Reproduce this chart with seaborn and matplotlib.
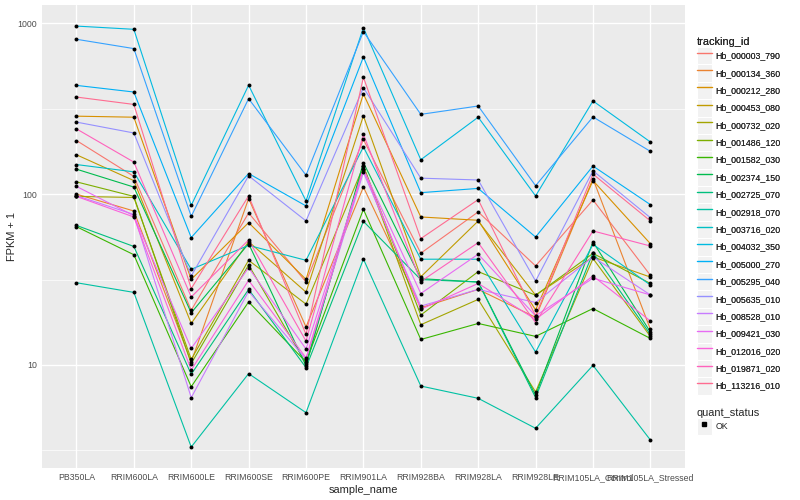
import numpy as np
import pandas as pd
import matplotlib
matplotlib.use("Agg")
import matplotlib.pyplot as plt
import seaborn as sns
from matplotlib.lines import Line2D
from matplotlib.patches import Patch
from matplotlib.legend_handler import HandlerTuple
from matplotlib.ticker import FixedLocator, FixedFormatter, NullFormatter

# samples on the x axis
samples = ["PB350LA", "RRIM600LA", "RRIM600LE", "RRIM600SE", "RRIM600PE", "RRIM901LA",
           "RRIM928BA", "RRIM928LA", "RRIM928LE", "RRIM105LA_Control", "RRIM105LA_Stressed"]

tracking_ids = ["Hb_000003_790", "Hb_000134_360", "Hb_000212_280", "Hb_000453_080",
                "Hb_000732_020", "Hb_001486_120", "Hb_001582_030", "Hb_002374_150",
                "Hb_002725_070", "Hb_002918_070", "Hb_003716_020", "Hb_004032_350",
                "Hb_005000_270", "Hb_005295_040", "Hb_005635_010", "Hb_008528_010",
                "Hb_009421_030", "Hb_012016_020", "Hb_019871_020", "Hb_113216_010"]

# ggplot hue palette, 20 levels
colors = ["#F8766D", "#EA8331", "#D89000", "#C09B00", "#A3A500", "#7CAE00", "#39B600",
          "#00BB4E", "#00BF7D", "#00C1A3", "#00BFC4", "#00BAE0", "#00B0F6", "#35A2FF",
          "#9590FF", "#C77CFF", "#E76BF3", "#FA62DB", "#FF62BC", "#FF6C91"]

# FPKM + 1 per gene, one value per sample
hb_000003_790 = [206, 127, 20.9, 77.6, 30.6, 209, 45.1, 78.7, 38.0, 92.5, 33.5]
hb_000134_360 = [100, 79.7, 10.4, 94.2, 16.7, 110, 21.6, 27.7, 19.0, 123, 16.2]
hb_000212_280 = [286, 282, 31.7, 68.1, 31.7, 386, 73.5, 70.3, 21.0, 120, 51.3]
hb_000453_080 = [170, 120, 17.5, 52.7, 26.7, 287, 32.8, 69.6, 25.6, 42.9, 32.7]
hb_000732_020 = [97, 95.6, 10.8, 41.0, 22.7, 146, 17.2, 24.2, 6.95, 42.0, 14.7]
hb_001486_120 = [118, 97, 10.2, 38.5, 10.2, 146, 19.6, 35.2, 25.6, 45.0, 30.0]
hb_001582_030 = [64.5, 44.2, 7.46, 23.4, 10.4, 81.5, 14.1, 17.5, 14.7, 21.4, 14.3]
hb_002374_150 = [140, 110, 20.2, 51.3, 9.87, 153, 32.0, 30.6, 6.65, 52.5, 15.6]
hb_002725_070 = [65.6, 49.4, 8.82, 27.7, 9.65, 69.3, 31.6, 30.6, 6.44, 45.5, 15.1]
hb_002918_070 = [30.3, 26.6, 3.31, 8.9, 5.26, 41.7, 7.53, 6.38, 4.26, 9.95, 3.64]
hb_003716_020 = [149, 135, 36.3, 50.1, 41.0, 189, 41.6, 41.6, 11.9, 50.8, 29.4]
hb_004032_350 = [963, 922, 85.9, 434, 91.2, 943, 159, 282, 97.6, 351, 202]
hb_005000_270 = [433, 396, 55.7, 132, 85.3, 635, 102, 108, 56.1, 146, 86.8]
hb_005295_040 = [806, 711, 74.1, 362, 129, 894, 293, 328, 112, 283, 178]
hb_005635_010 = [264, 228, 33.2, 128, 69.7, 420, 124, 121, 31.0, 137, 72.8]
hb_008528_010 = [98, 76, 6.44, 27.0, 10.8, 134, 22.1, 27.7, 23.2, 42.9, 25.7]
hb_009421_030 = [111, 74.8, 12.5, 37.1, 12.4, 140, 26.2, 44.5, 19.4, 32.2, 25.7]
hb_012016_020 = [97, 73.5, 9.35, 31.3, 11.0, 140, 21.2, 30.0, 18.5, 33.2, 18.1]
hb_019871_020 = [241, 154, 25.0, 53.9, 13.8, 224, 30.8, 52.0, 17.7, 60.9, 49.7]
hb_113216_010 = [370, 335, 28.0, 97.6, 15.1, 483, 54.9, 92.9, 19.4, 131, 69.7]

series = [hb_000003_790, hb_000134_360, hb_000212_280, hb_000453_080, hb_000732_020,
          hb_001486_120, hb_001582_030, hb_002374_150, hb_002725_070, hb_002918_070,
          hb_003716_020, hb_004032_350, hb_005000_270, hb_005295_040, hb_005635_010,
          hb_008528_010, hb_009421_030, hb_012016_020, hb_019871_020, hb_113216_010]

rows = []
for tid, vals in zip(tracking_ids, series):
    for s, v in zip(samples, vals):
        rows.append({"tracking_id": tid, "sample_name": s, "fpkm": v, "quant_status": "OK"})
df = pd.DataFrame(rows)

sns.set_theme(style="darkgrid", rc={
    "axes.facecolor": "#EBEBEB",
    "grid.color": "white",
    "axes.edgecolor": "none",
    "figure.facecolor": "white",
})
plt.rcParams["font.family"] = ["Liberation Sans", "DejaVu Sans"]

fig = plt.figure(figsize=(8, 5), dpi=100)
ax = fig.add_axes([0.0525, 0.064, 0.8035, 0.926])
ax.set_yscale("log")

sns.lineplot(data=df, x="sample_name", y="fpkm", hue="tracking_id", hue_order=tracking_ids,
             palette=colors, units="tracking_id", estimator=None, sort=False,
             linewidth=0.8, legend=False, ax=ax)
sns.scatterplot(data=df, x="sample_name", y="fpkm", color="black", s=8, linewidth=0,
                legend=False, ax=ax, zorder=5)

ax.set_xlim(-0.6, len(samples) - 0.4)
ax.set_ylim(10 ** 0.397, 10 ** 3.107)

ax.yaxis.set_major_locator(FixedLocator([10, 100, 1000]))
ax.yaxis.set_major_formatter(FixedFormatter(["10", "100", "1000"]))
ax.yaxis.set_minor_locator(FixedLocator([10 ** 0.5, 10 ** 1.5, 10 ** 2.5]))
ax.yaxis.set_minor_formatter(NullFormatter())

ax.grid(which="major", color="white", linewidth=1.0)
ax.grid(which="minor", axis="y", color="white", linewidth=0.5)
ax.tick_params(axis="both", which="major", length=2.0, width=0.5, color="#333333",
               labelsize=6.3, labelcolor="#4D4D4D", pad=1.6)
ax.tick_params(axis="y", which="minor", length=0)

ax.set_xlabel("sample_name", fontsize=7.9, labelpad=2)
ax.set_ylabel("FPKM + 1", fontsize=7.9, labelpad=0)
for sp in ax.spines.values():
    sp.set_visible(False)

# legend keys: grey square with the coloured line on top
key_bg = dict(facecolor="#F2F2F2", edgecolor="white", linewidth=0.8)
line_handles = [(Patch(**key_bg), Line2D([], [], color=c, linewidth=1.0)) for c in colors]
leg_kw = dict(frameon=False, fontsize=6.3, title_fontsize=7.9, handlelength=1.7,
              handleheight=2.68, labelspacing=0.0, handletextpad=0.45, borderaxespad=0,
              borderpad=0, alignment="left", handler_map={tuple: HandlerTuple(ndivide=1, pad=0)})
leg1 = fig.legend(line_handles, tracking_ids, loc="upper left", bbox_to_anchor=(0.871, 0.926),
                  title="tracking_id", **leg_kw)
fig.add_artist(leg1)

pt_handle = [(Patch(**key_bg), Line2D([], [], marker="s", markersize=2.2, color="black",
                                      linestyle="none"))]
fig.legend(pt_handle, ["OK"], loc="upper left", bbox_to_anchor=(0.871, 0.184),
           title="quant_status", **leg_kw)

fig.savefig("out.png", dpi=100)
